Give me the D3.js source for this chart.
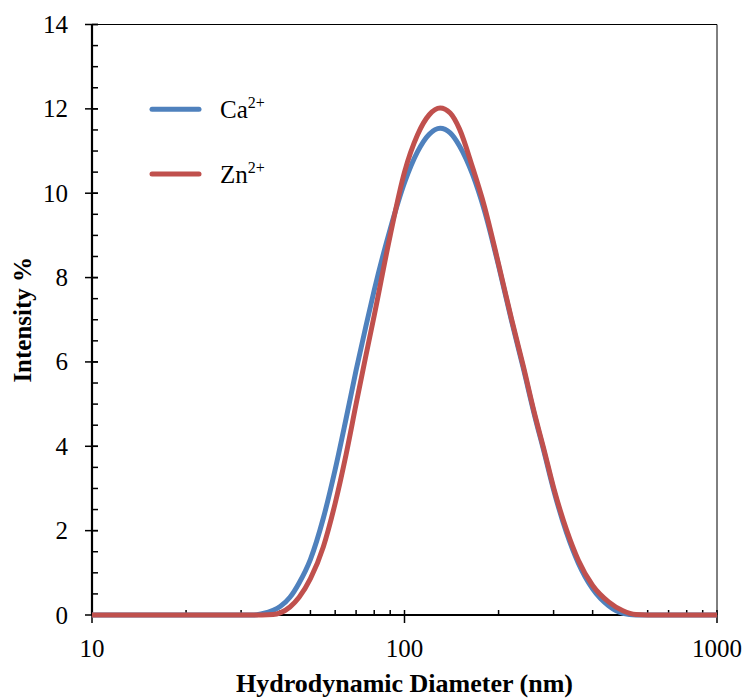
<!DOCTYPE html>
<html>
<head>
<meta charset="utf-8">
<script src="https://cdn.jsdelivr.net/npm/d3@7"></script>
<style>
body { margin: 0; background: #fff; }
</style>
</head>
<body>
<div id="chart"></div>
<script>
// diameters (nm) and intensity (%)
var sizes = [10, 20, 30, 33, 35, 38, 40, 43, 46, 50, 55, 60, 65, 70, 75, 80, 90, 100, 110, 120, 130, 140, 150, 165, 180, 200, 220, 240, 260, 280, 300, 330, 360, 400, 450, 500, 550, 600, 700, 800, 1000];
var caValues = [0, 0, 0, 0, 0.03, 0.11, 0.2, 0.42, 0.76, 1.32, 2.3, 3.45, 4.65, 5.8, 6.8, 7.7, 9.15, 10.25, 10.98, 11.4, 11.54, 11.43, 11.12, 10.45, 9.6, 8.28, 6.98, 5.85, 4.77, 3.85, 2.97, 1.95, 1.23, 0.62, 0.22, 0.04, 0, 0, 0, 0, 0];
var znValues = [0, 0, 0, 0, 0, 0.01, 0.05, 0.19, 0.42, 0.86, 1.62, 2.65, 3.8, 5.0, 6.1, 7.1, 9.0, 10.5, 11.38, 11.86, 12.02, 11.9, 11.52, 10.62, 9.7, 8.32, 7.02, 5.9, 4.81, 3.9, 3.02, 2.02, 1.3, 0.7, 0.31, 0.1, 0.01, 0, 0, 0, 0];
var xTicks = [10, 100, 1000];
var yTicks = [0, 2, 4, 6, 8, 10, 12, 14];

var margin = {top: 24.5, right: 30, bottom: 85, left: 92};
var width = 747 - margin.left - margin.right;
var height = 700 - margin.top - margin.bottom;
var serif = "Liberation Serif";

var x = d3.scaleLog().domain([10, 1000]).range([0, width]);
var y = d3.scaleLinear().domain([0, 14]).range([height, 0]);

var svg = d3.select("#chart").append("svg")
     .attr("width", 747)
     .attr("height", 700)
     .style("font-family", serif)
     .append("g")
     .attr("transform", "translate(" + margin.left + "," + margin.top + ")");

// thin frame on top and right
svg.append("line").attr("x1", 0).attr("x2", width).attr("y1", 0).attr("y2", 0)
     .attr("stroke", "#000").attr("stroke-width", 1);
svg.append("line").attr("x1", width).attr("x2", width).attr("y1", 0).attr("y2", height)
     .attr("stroke", "#000").attr("stroke-width", 1);

// minor ticks (inside)
var yMinor = d3.range(0, 14.01, 0.5);
svg.selectAll(".yminor").data(yMinor).enter().append("line")
     .attr("x1", 0).attr("x2", 6)
     .attr("y1", function (d) { return y(d); })
     .attr("y2", function (d) { return y(d); })
     .attr("stroke", "#000").attr("stroke-width", 1.5);
svg.selectAll(".ymajor").data(yTicks).enter().append("line")
     .attr("x1", -7).attr("x2", 6)
     .attr("y1", function (d) { return y(d); })
     .attr("y2", function (d) { return y(d); })
     .attr("stroke", "#000").attr("stroke-width", 1.5);

var xMinor = x.ticks().filter(function (d) { return xTicks.indexOf(d) < 0; });
svg.selectAll(".xminor").data(xMinor).enter().append("line")
     .attr("x1", function (d) { return x(d); })
     .attr("x2", function (d) { return x(d); })
     .attr("y1", height - 5).attr("y2", height)
     .attr("stroke", "#000").attr("stroke-width", 1.5);
svg.selectAll(".xmajor").data(xTicks).enter().append("line")
     .attr("x1", function (d) { return x(d); })
     .attr("x2", function (d) { return x(d); })
     .attr("y1", height - 5).attr("y2", height + 8)
     .attr("stroke", "#000").attr("stroke-width", 1.5);

// main axis lines
svg.append("line").attr("x1", 0).attr("x2", 0).attr("y1", 0).attr("y2", height)
     .attr("stroke", "#000").attr("stroke-width", 2.2);
svg.append("line").attr("x1", 0).attr("x2", width).attr("y1", height).attr("y2", height)
     .attr("stroke", "#000").attr("stroke-width", 2.2);

// tick labels
svg.selectAll(".ylab").data(yTicks).enter().append("text")
     .attr("x", -24)
     .attr("y", function (d) { return y(d); })
     .attr("dy", "0.34em")
     .attr("text-anchor", "end")
     .style("font-family", serif)
     .style("font-size", "25px")
     .text(function (d) { return d; });
svg.selectAll(".xlab").data(xTicks).enter().append("text")
     .attr("x", function (d) { return x(d); })
     .attr("y", height + 42)
     .attr("text-anchor", "middle")
     .style("font-family", serif)
     .style("font-size", "25px")
     .text(function (d) { return d; });

// axis titles
svg.append("text")
     .attr("x", width / 2)
     .attr("y", height + 77)
     .attr("text-anchor", "middle")
     .style("font-family", serif)
     .style("font-size", "26px")
     .style("font-weight", "bold")
     .text("Hydrodynamic Diameter (nm)");
svg.append("text")
     .attr("transform", "rotate(-90)")
     .attr("x", 0 - (height / 2))
     .attr("y", -70)
     .attr("dy", "0.35em")
     .attr("text-anchor", "middle")
     .style("font-family", serif)
     .style("font-size", "25px")
     .style("font-weight", "bold")
     .text("Intensity %");

var series = [
     {name: "Ca", color: "#4F81BD", values: caValues},
     {name: "Zn", color: "#C0504D", values: znValues}
];

var line = d3.line()
     .x(function (d, i) { return x(sizes[i]); })
     .y(function (d) { return y(d); })
     .curve(d3.curveMonotoneX);

series.forEach(function (s) {
     svg.append("path")
          .datum(s.values)
          .attr("d", line)
          .attr("fill", "none")
          .attr("stroke", s.color)
          .attr("stroke-width", 5)
          .attr("stroke-linejoin", "round");
});

// legend
series.forEach(function (s, i) {
     var ly = 84.8 + i * 64.7;
     svg.append("line")
          .attr("x1", 60).attr("x2", 107)
          .attr("y1", ly).attr("y2", ly)
          .attr("stroke", s.color)
          .attr("stroke-width", 5)
          .attr("stroke-linecap", "round");
     var t = svg.append("text")
          .attr("x", 128)
          .attr("y", ly + 9)
          .style("font-family", serif)
          .style("font-size", "25px")
          .text(s.name);
     t.append("tspan")
          .attr("dy", -10)
          .style("font-size", "16px")
          .text("2+");
});
</script>
</body>
</html>
